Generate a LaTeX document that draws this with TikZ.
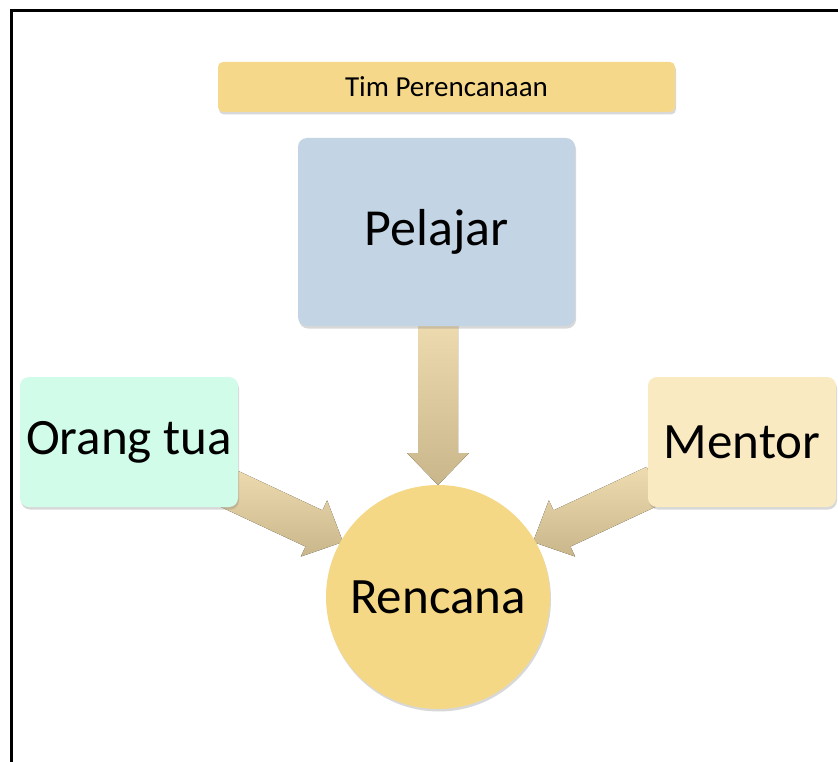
\documentclass[tikz,border=0pt]{standalone}
\usepackage{fontspec}
\setmainfont{Carlito}
\usetikzlibrary{calc,shadows}
\definecolor{timc}{HTML}{F6D88A}
\definecolor{pelc}{HTML}{C3D4E4}
\definecolor{orc}{HTML}{D0FCE9}
\definecolor{menc}{HTML}{FAEAC2}
\definecolor{renc}{HTML}{F5D886}
\definecolor{arrtop}{HTML}{EEDCB0}
\definecolor{arrbot}{HTML}{C9B68A}
\tikzset{
  boxsh/.style={drop shadow={opacity=0.3,shadow xshift=1pt,shadow yshift=-2.5pt}},
  card/.style={rounded corners=9pt,draw=none,boxsh,inner sep=0pt},
  fatarrow/.style={top color=arrtop,bottom color=arrbot,draw=none},
}
\newcommand{\fatarr}[2]{%
  \coordinate (hb) at ($(#2)!32pt!(#1)$);
  \fill[fatarrow]
    ($(#1)!20pt!90:(#2)$) -- ($(hb)!20pt!-90:(#1)$) -- ($(hb)!31pt!-90:(#1)$)
    -- (#2) -- ($(hb)!31pt!90:(#1)$) -- ($(hb)!20pt!90:(#1)$)
    -- ($(#1)!20pt!-90:(#2)$) -- cycle;}
\begin{document}
\begin{tikzpicture}[x=1pt,y=-1pt]
\useasboundingbox (0,0) rectangle (838,762);
\fill[white] (0,0) rectangle (838,762);
\draw[line width=3pt] (11,764) -- (11,11) -- (840,11);
% connectors
\coordinate (ds) at (438,320);
\coordinate (dt) at (438,485);
\coordinate (ls) at (221,485);
\coordinate (lt) at (343,542);
\coordinate (rs) at (655,485);
\coordinate (rt) at (533,542);
\fatarr{ds}{dt}
\fatarr{ls}{lt}
\fatarr{rs}{rt}
% nodes
\node[card,fill=timc,minimum width=457pt,minimum height=50pt,rounded corners=5pt,font=\fontsize{29}{34}\selectfont] (tim) at (446.5,87) {Tim Perencanaan};
\node[card,fill=pelc,minimum width=277pt,minimum height=188pt,font=\fontsize{52}{60}\selectfont] (pel) at (436.5,232) {Pelajar};
\node[card,fill=orc,minimum width=218pt,minimum height=130pt,font=\fontsize{51}{58}\selectfont] (ort) at (129,442) {Orang tua};
\node[card,fill=menc,minimum width=188pt,minimum height=130pt,font=\fontsize{51}{58}\selectfont] (men) at (742,442) {Mentor};
\node[circle,fill=renc,draw=none,minimum size=224pt,inner sep=0pt,boxsh,font=\fontsize{51}{58}\selectfont] (ren) at (438,597) {Rencana};
\end{tikzpicture}
\end{document}
